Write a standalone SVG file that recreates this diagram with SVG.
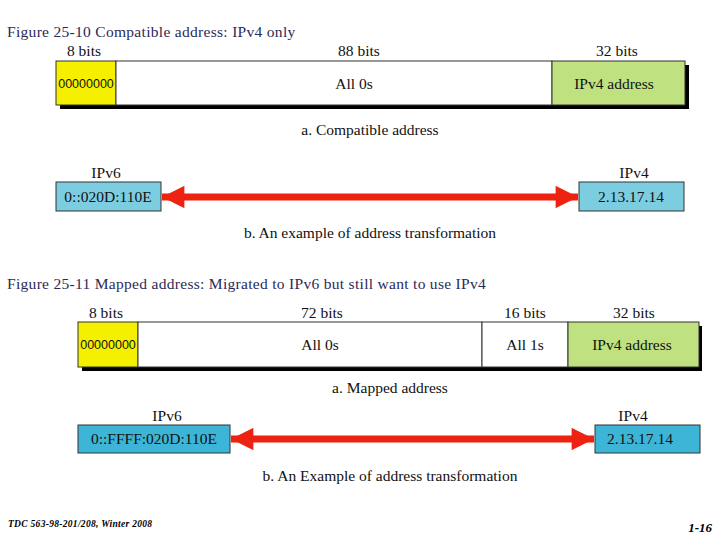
<svg xmlns="http://www.w3.org/2000/svg" width="720" height="540" viewBox="0 0 720 540">
<defs>
<style>
.t{font-family:"Liberation Serif","Times New Roman","DejaVu Serif",serif;font-size:15.5px;fill:#111;}
.m{text-anchor:middle;}
.title{font-family:"Liberation Serif","Times New Roman","DejaVu Serif",serif;font-size:15.5px;letter-spacing:0.3px;fill:#2a2a5a;}
.z{font-family:"Liberation Sans",Arial,sans-serif;font-size:12.5px;fill:#111;text-anchor:middle;}
.box{stroke:#333;stroke-width:1;}
.shadow{fill:#000;}
.foot{font-family:"Liberation Serif","Times New Roman","DejaVu Serif",serif;font-weight:bold;font-style:italic;fill:#000;}
</style>
<marker id="ah" viewBox="0 0 10 10" refX="10" refY="5" markerWidth="5.2" markerHeight="3.2" markerUnits="strokeWidth" orient="auto-start-reverse">
<path d="M0,0 L10,5 L0,10 Z" fill="#ee2211"/>
</marker>
</defs>
<rect width="720" height="540" fill="#fff"/>

<text class="title" x="7" y="37">Figure  25-10 Compatible address: IPv4 only</text>

<g id="fig1-row">
<rect class="shadow" x="60" y="65" width="629" height="44"/>
<rect class="box" x="56" y="61" width="60" height="44" fill="#f5f000"/>
<rect class="box" x="116" y="61" width="436" height="44" fill="#fff"/>
<rect class="box" x="552" y="61" width="133" height="44" fill="#bfe17f"/>
<text class="t m" x="84" y="56">8 bits</text>
<text class="t m" x="359" y="56">88 bits</text>
<text class="t m" x="617" y="56">32 bits</text>
<text class="z" x="86" y="88">00000000</text>
<text class="t m" x="354" y="89">All 0s</text>
<text class="t m" x="614" y="89">IPv4 address</text>
<text class="t m" x="370" y="135">a. Compatible address</text>
</g>

<g id="fig1-ipv6">
<text class="t m" x="106" y="178">IPv6</text>
<rect class="box" x="56" y="182" width="105" height="29" fill="#7ccde0"/>
<text class="t m" x="108" y="202">0::020D:110E</text>
</g>
<g id="fig1-ipv4">
<text class="t m" x="634" y="178">IPv4</text>
<rect class="box" x="579" y="182" width="105" height="29" fill="#7ccde0"/>
<text class="t m" x="631" y="202">2.13.17.14</text>
</g>

<g id="connectors">
<line x1="162" y1="197" x2="578" y2="197" stroke="#ee2211" stroke-width="7" marker-start="url(#ah)" marker-end="url(#ah)"/>
<line x1="231" y1="439" x2="594" y2="439" stroke="#ee2211" stroke-width="7" marker-start="url(#ah)" marker-end="url(#ah)"/>
</g>

<text class="t m" x="370" y="238">b. An example of address transformation</text>

<text class="title" x="7" y="289">Figure  25-11 Mapped address: Migrated to IPv6 but still want to use IPv4</text>

<g id="fig2-row">
<rect class="shadow" x="82" y="326" width="620" height="45"/>
<rect class="box" x="78" y="322" width="60" height="45" fill="#f5f000"/>
<rect class="box" x="138" y="322" width="344" height="45" fill="#fff"/>
<rect class="box" x="482" y="322" width="86" height="45" fill="#fff"/>
<rect class="box" x="568" y="322" width="131" height="45" fill="#bfe17f"/>
<text class="t m" x="106" y="318">8 bits</text>
<text class="t m" x="322" y="318">72 bits</text>
<text class="t m" x="525" y="318">16 bits</text>
<text class="t m" x="634" y="318">32 bits</text>
<text class="z" x="108" y="349">00000000</text>
<text class="t m" x="320" y="350">All 0s</text>
<text class="t m" x="525" y="350">All 1s</text>
<text class="t m" x="632" y="350">IPv4 address</text>
<text class="t m" x="390" y="393">a. Mapped address</text>
</g>

<g id="fig2-ipv6">
<text class="t m" x="167" y="421">IPv6</text>
<rect class="box" x="78" y="425" width="152" height="28" fill="#3db5d6"/>
<text class="t m" x="154" y="444">0::FFFF:020D:110E</text>
</g>
<g id="fig2-ipv4">
<text class="t m" x="633" y="421">IPv4</text>
<rect class="box" x="595" y="425" width="105" height="28" fill="#3db5d6"/>
<text class="t m" x="640" y="444">2.13.17.14</text>
</g>

<text class="t m" x="390" y="481">b. An Example of address transformation</text>

<text class="foot" x="8" y="527" font-size="9.5" letter-spacing="0.3">TDC 563-98-201/208, Winter  2008</text>
<text class="foot" x="712" y="532" font-size="13" text-anchor="end">1-16</text>
</svg>
